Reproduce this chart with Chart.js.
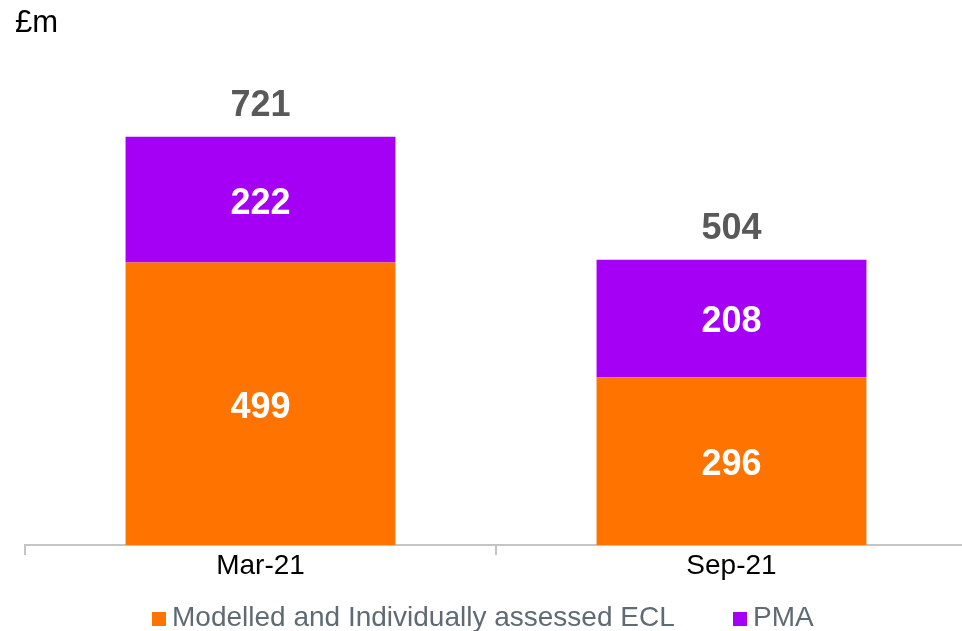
<!DOCTYPE html>
<html>
<head>
<meta charset="utf-8">
<script src="https://cdn.jsdelivr.net/npm/chart.js@4"></script>
<style>
  html, body { margin: 0; padding: 0; background: #fff; overflow: hidden; }
  body { width: 962px; height: 631px; position: relative; font-family: "Liberation Sans", Arial, sans-serif; }
  #wrap { position: absolute; left: 0; top: 0; width: 967px; height: 631px; }
  #unit { position: absolute; left: 15px; top: 4px; font-size: 31px; color: #000; }
  .leg { position: absolute; top: 599px; font-size: 28px; color: #5f6b73; white-space: nowrap; line-height: 36px; }
  .leg i { display: inline-block; width: 14px; height: 14px; margin-right: 6px; vertical-align: 0px; }
</style>
</head>
<body>
<div id="wrap"><canvas id="chart" width="967" height="631"></canvas></div>
<div id="unit">£m</div>
<div class="leg" style="left:152px"><i style="background:#ff7300"></i>Modelled and Individually assessed ECL</div>
<div class="leg" style="left:733px"><i style="background:#a500f5"></i>PMA</div>
<script>
const categories = ["Mar-21", "Sep-21"];
const eclValues = [499, 296];
const pmaValues = [222, 208];
const totalValues = [721, 504];

const labelPlugin = {
  id: "barLabels",
  afterDatasetsDraw(chart) {
    const ctx = chart.ctx;
    ctx.save();
    ctx.textAlign = "center";
    ctx.textBaseline = "middle";
    ctx.font = "bold 36px 'Liberation Sans', Arial, sans-serif";
    chart.data.datasets.forEach((ds, di) => {
      chart.getDatasetMeta(di).data.forEach((bar, i) => {
        const mid = (bar.y + bar.base) / 2;
        ctx.fillStyle = "#ffffff";
        ctx.fillText(ds.data[i], bar.x, mid + 4);
      });
    });
    const top = chart.getDatasetMeta(1).data;
    top.forEach((bar, i) => {
      ctx.fillStyle = "#595959";
      ctx.fillText(totalValues[i], bar.x, bar.y - 31);
    });
    ctx.restore();
  }
};

new Chart(document.getElementById("chart"), {
  type: "bar",
  data: {
    labels: categories,
    datasets: [
      { label: "Modelled and Individually assessed ECL", data: eclValues, backgroundColor: "#ff7300" },
      { label: "PMA", data: pmaValues, backgroundColor: "#a500f5" }
    ]
  },
  options: {
    responsive: false,
    animation: false,
    layout: { padding: { top: 40, left: 25, right: 0, bottom: 0 } },
    datasets: { bar: { categoryPercentage: 1, barPercentage: 0.573 } },
    plugins: { legend: { display: false }, tooltip: { enabled: false } },
    scales: {
      x: {
        stacked: true,
        afterFit(scale) { scale.height = 86; },
        grid: { drawOnChartArea: false, drawTicks: true, tickLength: 10, color: "#c4c4c4", lineWidth: 2 },
        border: { color: "#c4c4c4", width: 2 },
        ticks: { color: "#000", padding: -6, font: { size: 28, family: "'Liberation Sans', Arial, sans-serif" } }
      },
      y: { stacked: true, display: false, min: 0, max: 892 }
    }
  },
  plugins: [labelPlugin]
});
</script>
</body>
</html>
